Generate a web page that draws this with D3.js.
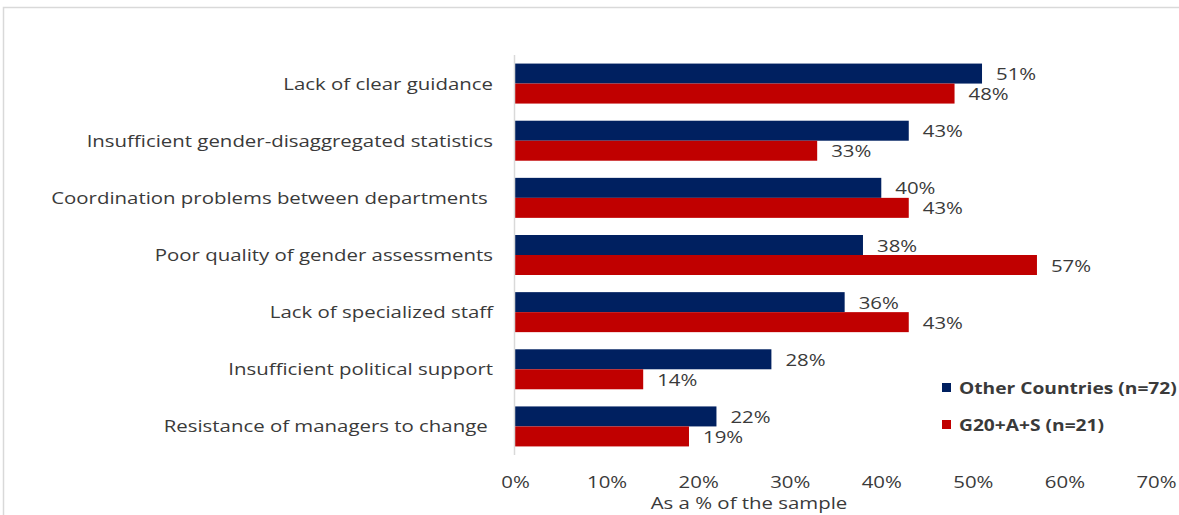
<!DOCTYPE html>
<html>
<head>
<meta charset="utf-8">
<script src="https://cdn.jsdelivr.net/npm/d3@7"></script>
<style>
    body { margin: 0; background: #fff; }
    svg text { font-family: "Open Sans", "Noto Sans", sans-serif; fill: #3a3a3a; }
</style>
</head>
<body>
<svg id="chart" width="1179" height="515"></svg>
<script>
// chart data
const categories = [
    'Lack of clear guidance',
    'Insufficient gender-disaggregated statistics',
    'Coordination problems between departments ',
    'Poor quality of gender assessments',
    'Lack of specialized staff',
    'Insufficient political support',
    'Resistance of managers to change '
];
const other_values = [51, 43, 40, 38, 36, 28, 22];
const g20_values = [48, 33, 43, 57, 43, 14, 19];
const series_names = ['Other Countries (n=72)', 'G20+A+S (n=21)'];
const x_ticks = [0, 10, 20, 30, 40, 50, 60, 70];
const axis_title = 'As a % of the sample';

const colors = ['#002060', '#c00000'];
// the original font is drawn wide, so stretch text horizontally
const stretch = 1.2;

const svg = d3.select('#chart');

// place a text at (x, y) with the horizontal stretch applied
function place(sel, x, y) {
    return sel.attr('transform', (d, i) => {
        const px = typeof x === 'function' ? x(d, i) : x;
        const py = typeof y === 'function' ? y(d, i) : y;
        return `translate(${px}, ${py}) scale(${stretch}, 1)`;
    });
}

// outer frame (only top and left edges visible)
svg.append('path')
    .attr('d', 'M3.5,515 V7.5 H1179')
    .attr('fill', 'none')
    .attr('stroke', '#d9d9d9')
    .attr('stroke-width', 1.5);

const plot_left = 515, plot_right = 1156, plot_top = 55, plot_bottom = 455;

const xScale = d3.scaleLinear().domain([0, 70]).range([plot_left, plot_right]);
const yScale = d3.scaleBand().domain(categories).range([plot_top, plot_bottom]).paddingInner(0.3).paddingOuter(0.15);
const sub = d3.scaleBand().domain([0, 1]).range([0, yScale.bandwidth()]);

const rows = categories.map((c, i) => ({label: c, values: [other_values[i], g20_values[i]]}));

const groups = svg.selectAll('g.row')
    .data(rows)
    .enter()
    .append('g')
    .attr('class', 'row')
    .attr('transform', (d) => `translate(0, ${yScale(d.label)})`);

groups.selectAll('rect')
    .data((d) => d.values.map((v, k) => ({v: v, k: k})))
    .enter()
    .append('rect')
    .attr('x', xScale(0))
    .attr('y', (d) => sub(d.k))
    .attr('width', (d) => xScale(d.v) - xScale(0))
    .attr('height', sub.bandwidth())
    .attr('fill', (d) => colors[d.k]);

groups.selectAll('text.value')
    .data((d) => d.values.map((v, k) => ({v: v, k: k})))
    .enter()
    .append('text')
    .attr('class', 'value')
    .call(place, (d) => xScale(d.v) + 14, (d) => sub(d.k) + sub.bandwidth() / 2 + 6.5)
    .attr('font-size', 17)
    .text((d) => d.v + '%');

// category labels
svg.selectAll('text.cat')
    .data(categories)
    .enter()
    .append('text')
    .attr('class', 'cat')
    .call(place, plot_left - 22, (c) => yScale(c) + yScale.bandwidth() / 2 + 6)
    .attr('text-anchor', 'end')
    .attr('font-size', 17)
    .style('white-space', 'pre')
    .text((c) => c);

// vertical axis line
svg.append('line')
    .attr('x1', plot_left - 0.5).attr('x2', plot_left - 0.5)
    .attr('y1', plot_top).attr('y2', plot_bottom)
    .attr('stroke', '#d9d9d9')
    .attr('stroke-width', 1.5);

// x axis tick labels
const xAxis = svg.append('g')
    .attr('transform', `translate(0, ${plot_bottom})`)
    .call(d3.axisBottom(xScale).tickValues(x_ticks).tickFormat((d) => d + '%').tickSize(0).tickPadding(0));
xAxis.select('.domain').remove();
xAxis.selectAll('text')
    .attr('dy', null)
    .attr('y', 0)
    .attr('transform', `translate(0, 33) scale(${stretch}, 1)`)
    .attr('font-size', 17)
    .attr('font-family', '"Open Sans", sans-serif')
    .attr('fill', '#3a3a3a');

svg.append('text')
    .call(place, 749, 509)
    .attr('text-anchor', 'middle')
    .attr('font-size', 17)
    .text(axis_title);

// legend
const legend = svg.selectAll('g.legend')
    .data(series_names)
    .enter()
    .append('g')
    .attr('class', 'legend')
    .attr('transform', (d, i) => `translate(942, ${383 + i * 37})`);

legend.append('rect')
    .attr('width', 9)
    .attr('height', 9)
    .attr('fill', (d, i) => colors[i]);

legend.append('text')
    .call(place, 17, 11)
    .attr('font-size', 16)
    .attr('font-weight', 'bold')
    .text((d) => d);
</script>
</body>
</html>
